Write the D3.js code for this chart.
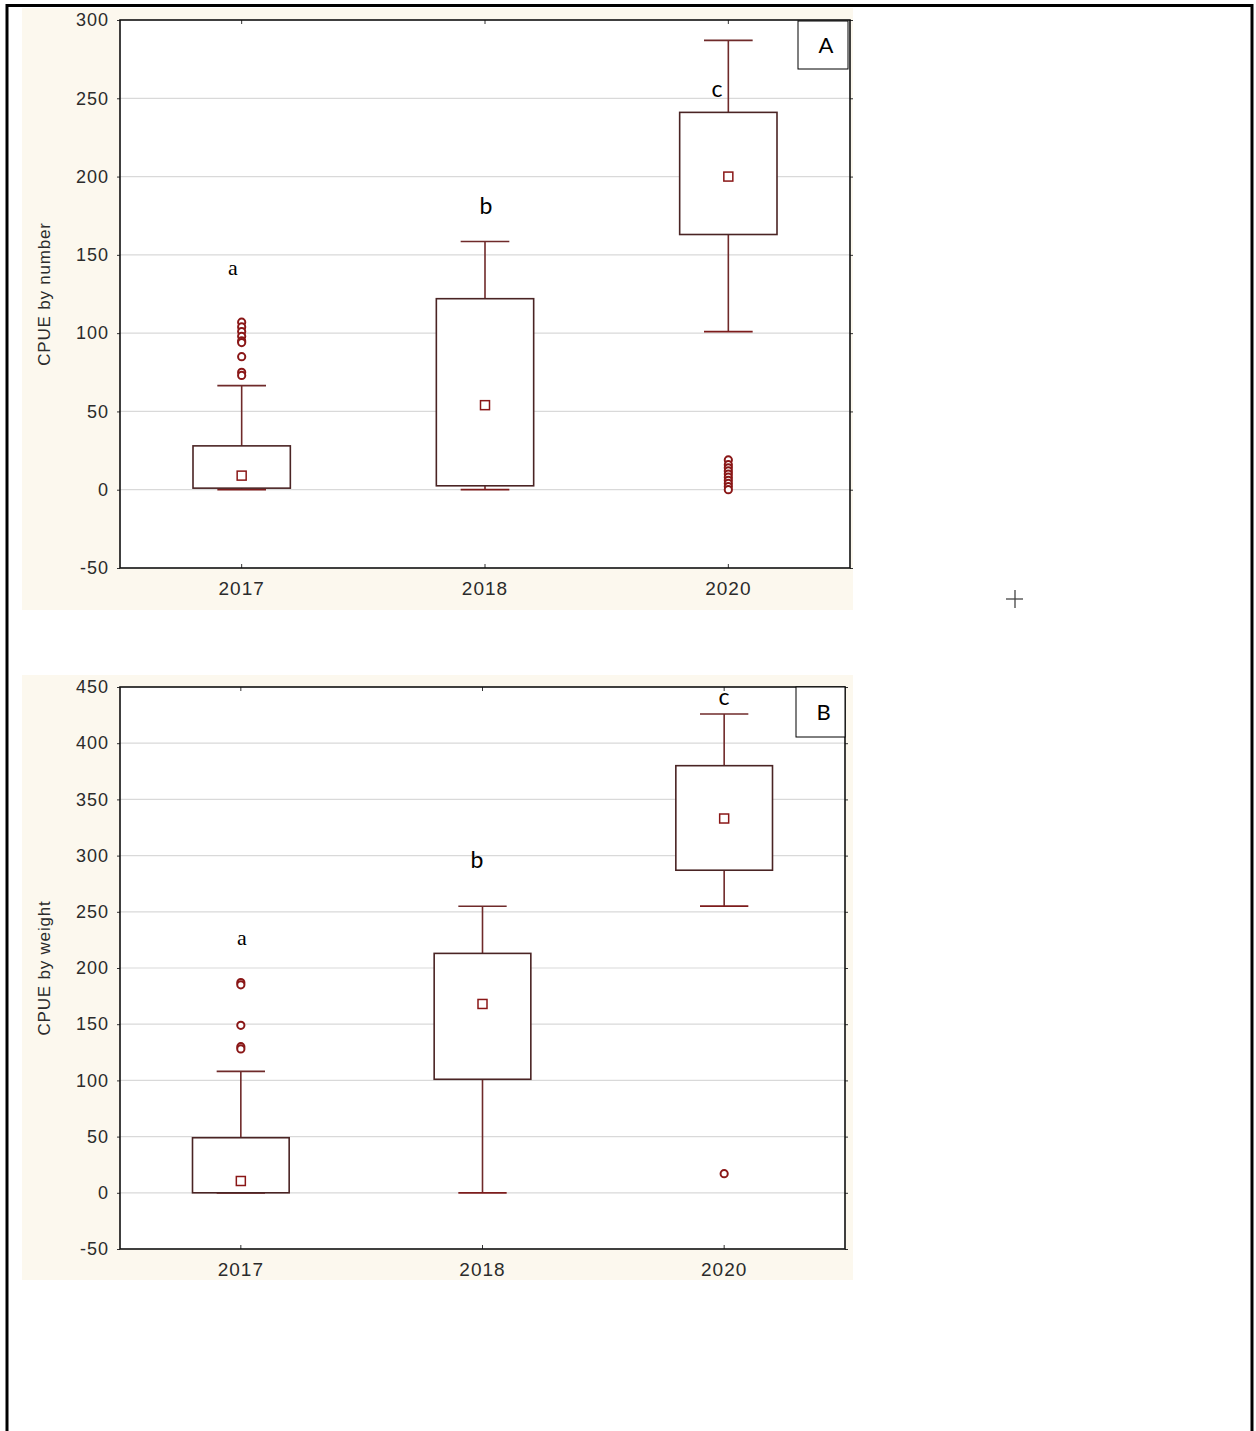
<!DOCTYPE html>
<html>
<head>
<meta charset="utf-8">
<script src="https://cdn.jsdelivr.net/npm/d3@7"></script>
<style>
  html, body { margin: 0; padding: 0; background: #fff; }
  svg { display: block; }
</style>
</head>
<body>
<svg id="chart" width="1256" height="1431"></svg>
<script>
// Sampling years shared by both panels
const years = ["2017", "2018", "2020"];

// Panel A: CPUE by number
const numWhiskerLow = [0, 0, 101];
const numQ1 = [1, 2.5, 163];
const numMedian = [9, 54, 200];
const numQ3 = [28, 122, 241];
const numWhiskerHigh = [66.5, 158.5, 287];
const numOutliers = [
  [107, 104, 101, 98, 95, 94, 85, 75, 73],
  [],
  [19, 16, 14, 12, 10, 8, 6, 4, 2, 0]
];
const numLetters = ["a", "b", "c"];
const numTicks = [-50, 0, 50, 100, 150, 200, 250, 300];

// Panel B: CPUE by weight
const wtWhiskerLow = [0, 0, 255];
const wtQ1 = [0, 101, 287];
const wtMedian = [10.5, 168, 333];
const wtQ3 = [49, 213, 380];
const wtWhiskerHigh = [108, 255, 426];
const wtOutliers = [
  [187, 185, 149, 130, 128],
  [],
  [17]
];
const wtLetters = ["a", "b", "c"];
const wtTicks = [-50, 0, 50, 100, 150, 200, 250, 300, 350, 400, 450];

const svg = d3.select("#chart");

// Page frame
svg.append("path")
  .attr("d", "M7,1431 L7,5.5 L1252,5.5 L1252,1431")
  .attr("fill", "none").attr("stroke", "#000").attr("stroke-width", 3);

// Small crosshair mark on the page
svg.append("g").attr("stroke", "#444").attr("stroke-width", 1.3)
  .call(g => {
    g.append("line").attr("x1", 1006).attr("x2", 1023).attr("y1", 599).attr("y2", 599);
    g.append("line").attr("x1", 1015).attr("x2", 1015).attr("y1", 590).attr("y2", 608);
  });

const boxStroke = "#4a2424";
const whiskerStroke = "#6f2a2a";
const pointStroke = "#8a1717";
const labelFont = "Liberation Sans, Arial, sans-serif";
const labelColor = "#2b2b2b";

function drawPanel(cfg) {
  const g = svg.append("g");
  const { left, top, right, bottom } = cfg.plot;

  // cream panel background
  g.append("rect")
    .attr("x", cfg.bg[0]).attr("y", cfg.bg[1])
    .attr("width", cfg.bg[2] - cfg.bg[0]).attr("height", cfg.bg[3] - cfg.bg[1])
    .attr("fill", "#fcf8ee");

  g.append("rect")
    .attr("x", left).attr("y", top)
    .attr("width", right - left).attr("height", bottom - top)
    .attr("fill", "#fff");

  const x = d3.scaleBand().domain(years).range([left, right]).padding(0);
  const y = d3.scaleLinear().domain(cfg.domain).range([bottom, top]);
  const cx = d => x(d) + x.bandwidth() / 2;
  const boxW = x.bandwidth() * 0.4;
  const capW = boxW / 2;

  // horizontal grid lines
  g.append("g").selectAll("line")
    .data(cfg.ticks.filter(t => t > cfg.domain[0] && t < cfg.domain[1]))
    .join("line")
    .attr("x1", left).attr("x2", right)
    .attr("y1", d => y(d)).attr("y2", d => y(d))
    .attr("stroke", "#d9d9d9").attr("stroke-width", 1.2);

  // y axis (plain hyphen for negatives)
  const yAxis = d3.axisLeft(y).tickValues(cfg.ticks).tickSize(3).tickPadding(8)
    .tickFormat(d => String(d));
  const ya = g.append("g").attr("transform", `translate(${left},0)`).call(yAxis);
  ya.select(".domain").remove();
  ya.selectAll("text").attr("font-family", labelFont)
    .attr("font-size", 18).attr("letter-spacing", 1).attr("fill", labelColor);
  ya.selectAll("line").attr("stroke", "#333");

  // right-side ticks
  const yr = g.append("g").attr("transform", `translate(${right},0)`)
    .call(d3.axisRight(y).tickValues(cfg.ticks).tickSize(3).tickFormat(""));
  yr.select(".domain").remove();
  yr.selectAll("line").attr("stroke", "#333");

  // x axis
  const xa = g.append("g").attr("transform", `translate(0,${bottom})`)
    .call(d3.axisBottom(x).tickSize(-4).tickPadding(14));
  xa.select(".domain").remove();
  xa.selectAll("text").attr("font-family", labelFont)
    .attr("font-size", 19).attr("letter-spacing", 1).attr("fill", labelColor);
  xa.selectAll("line").attr("stroke", "#333");

  const xt = g.append("g").attr("transform", `translate(0,${top})`)
    .call(d3.axisTop(x).tickSize(-4).tickFormat(""));
  xt.select(".domain").remove();
  xt.selectAll("line").attr("stroke", "#333");

  // y axis title
  g.append("text")
    .attr("transform", `translate(${cfg.titleX},${(top + bottom) / 2}) rotate(-90)`)
    .attr("text-anchor", "middle")
    .attr("font-family", labelFont)
    .attr("font-size", 17).attr("letter-spacing", 0.8).attr("fill", labelColor)
    .text(cfg.title);

  // boxes
  const data = years.map((yr, i) => ({
    yr, lo: cfg.lo[i], q1: cfg.q1[i], med: cfg.med[i], q3: cfg.q3[i], hi: cfg.hi[i],
    out: cfg.out[i], letter: cfg.letters[i], lx: cfg.letterPos[i][0], ly: cfg.letterPos[i][1],
    serif: cfg.letterSerif[i]
  }));

  const bx = g.append("g").selectAll("g").data(data).join("g");

  // whiskers
  bx.append("line")
    .attr("x1", d => cx(d.yr)).attr("x2", d => cx(d.yr))
    .attr("y1", d => y(d.q3)).attr("y2", d => y(d.hi))
    .attr("stroke", whiskerStroke).attr("stroke-width", 1.6);
  bx.append("line")
    .attr("x1", d => cx(d.yr)).attr("x2", d => cx(d.yr))
    .attr("y1", d => y(d.q1)).attr("y2", d => y(d.lo))
    .attr("stroke", whiskerStroke).attr("stroke-width", 1.6);
  bx.append("line")
    .attr("x1", d => cx(d.yr) - capW / 2).attr("x2", d => cx(d.yr) + capW / 2)
    .attr("y1", d => y(d.hi)).attr("y2", d => y(d.hi))
    .attr("stroke", whiskerStroke).attr("stroke-width", 1.6);
  bx.append("line")
    .attr("x1", d => cx(d.yr) - capW / 2).attr("x2", d => cx(d.yr) + capW / 2)
    .attr("y1", d => y(d.lo)).attr("y2", d => y(d.lo))
    .attr("stroke", "#7d1c1c").attr("stroke-width", 1.8);

  // box
  bx.append("rect")
    .attr("x", d => cx(d.yr) - boxW / 2).attr("width", boxW)
    .attr("y", d => y(d.q3)).attr("height", d => y(d.q1) - y(d.q3))
    .attr("fill", "#fff").attr("stroke", boxStroke).attr("stroke-width", 1.6);

  // median marker
  bx.append("rect")
    .attr("x", d => cx(d.yr) - 4.5).attr("y", d => y(d.med) - 4.5)
    .attr("width", 9).attr("height", 9)
    .attr("fill", "#fff").attr("stroke", pointStroke).attr("stroke-width", 1.5);

  // outliers
  bx.selectAll("circle").data(d => d.out.map(v => ({ yr: d.yr, v })))
    .join("circle")
    .attr("cx", d => cx(d.yr)).attr("cy", d => y(d.v))
    .attr("r", 3.6)
    .attr("fill", "#fff").attr("stroke", pointStroke).attr("stroke-width", 2);

  // group letters
  bx.append("text")
    .attr("x", d => d.lx).attr("y", d => d.ly)
    .attr("text-anchor", "middle")
    .attr("font-family", d => d.serif ? "Liberation Serif, Times New Roman, serif" : "Lato, Open Sans, sans-serif")
    .attr("font-size", d => d.serif ? 22 : 23)
    .attr("fill", "#000")
    .text(d => d.letter);

  // frame
  g.append("rect")
    .attr("x", left).attr("y", top)
    .attr("width", right - left).attr("height", bottom - top)
    .attr("fill", "none").attr("stroke", "#111").attr("stroke-width", 1.6);

  // panel tag
  g.append("rect")
    .attr("x", cfg.tag[0]).attr("y", cfg.tag[1])
    .attr("width", cfg.tag[2]).attr("height", cfg.tag[3])
    .attr("fill", "#fff").attr("stroke", "#000").attr("stroke-width", 1);
  g.append("text")
    .attr("x", cfg.tag[0] + cfg.tag[2] / 2 + 3).attr("y", cfg.tag[1] + cfg.tag[3] / 2 + 8)
    .attr("text-anchor", "middle")
    .attr("font-family", "Lato, Open Sans, sans-serif")
    .attr("font-size", 22).attr("fill", "#000")
    .text(cfg.tagText);
}

drawPanel({
  bg: [22, 8, 853, 610],
  plot: { left: 120, top: 20, right: 850, bottom: 568 },
  domain: [-50, 300],
  ticks: numTicks,
  title: "CPUE by number",
  titleX: 50,
  lo: numWhiskerLow, q1: numQ1, med: numMedian, q3: numQ3, hi: numWhiskerHigh,
  out: numOutliers, letters: numLetters,
  letterPos: [[233, 275], [486, 214], [717, 97]],
  letterSerif: [true, false, false],
  tag: [798, 21, 50, 48], tagText: "A"
});

drawPanel({
  bg: [22, 675, 853, 1280],
  plot: { left: 120, top: 687, right: 845, bottom: 1249 },
  domain: [-50, 450],
  ticks: wtTicks,
  title: "CPUE by weight",
  titleX: 50,
  lo: wtWhiskerLow, q1: wtQ1, med: wtMedian, q3: wtQ3, hi: wtWhiskerHigh,
  out: wtOutliers, letters: wtLetters,
  letterPos: [[242, 945], [477, 868], [724, 705]],
  letterSerif: [true, false, false],
  tag: [796, 687, 49, 50], tagText: "B"
});
</script>
</body>
</html>
